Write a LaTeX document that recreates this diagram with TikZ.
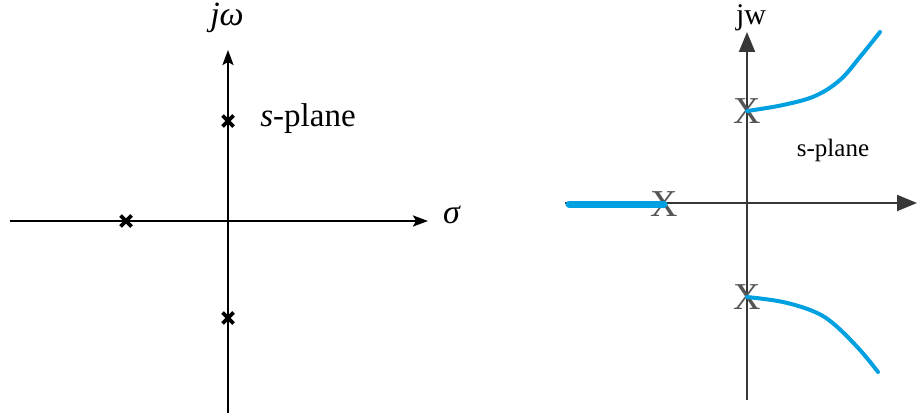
\documentclass[tikz,border=0pt]{standalone}
\usepackage{fontspec}
\setmainfont{Liberation Serif}
\usetikzlibrary{arrows.meta}
\definecolor{locus}{RGB}{0,160,225}
\definecolor{axgray}{RGB}{55,55,55}
\definecolor{xgray}{RGB}{85,85,85}
\begin{document}
\begin{tikzpicture}[x=1pt,y=-1pt,
  leftaxis/.style={line width=2.4pt,-{Stealth[length=15pt,width=11pt,inset=3pt]}},
  rightaxis/.style={line width=2pt,draw=axgray,-{Triangle[length=20pt,width=16pt]}},
  pole/.style={inner sep=0pt,minimum size=14pt},
  polecross/.style={line width=3.6pt},
  rpole/.style={inner sep=0pt,text=xgray,font=\fontsize{38}{38}\selectfont},
  locusline/.style={draw=locus,line width=4pt,line cap=round,line join=round}]
\useasboundingbox (0,0) rectangle (917,417);
% left diagram
\coordinate (lyb) at (228,413);
\coordinate (lyt) at (228,50);
\coordinate (lxl) at (10,221);
\coordinate (lxr) at (428,221);
\draw[leftaxis] (lyb) -- (lyt);
\draw[leftaxis] (lxl) -- (lxr);
\node (jw) at (227,18) {\fontsize{34}{34}\selectfont\textit{jω}};
\node (sigma) at (452,215) {\fontsize{34}{34}\selectfont\textit{σ}};
\node (lsplane) at (308,119) {\fontsize{33}{33}\selectfont\textit{s}-plane};
\node[pole] (p1) at (228,121) {};
\node[pole] (p2) at (126,221) {};
\node[pole] (p3) at (228,318) {};
\foreach \p in {p1,p2,p3}{
  \draw[polecross] ([shift={(-5.5,-5.5)}]\p.center) -- ([shift={(5.5,5.5)}]\p.center);
  \draw[polecross] ([shift={(-5.5,5.5)}]\p.center) -- ([shift={(5.5,-5.5)}]\p.center);
}
% right diagram
\coordinate (ryb) at (747,400);
\coordinate (ryt) at (747,32);
\coordinate (rxl) at (565,203);
\coordinate (rxr) at (917,203);
\draw[rightaxis] (ryb) -- (ryt);
\draw[rightaxis] (rxl) -- (rxr);
\node (jw2) at (751,18) {\fontsize{30}{30}\selectfont jw};
\node (rsplane) at (833,150) {\fontsize{25}{25}\selectfont s-plane};
\node[rpole] (q1) at (747,111) {X};
\node[rpole] (q2) at (664,204) {X};
\node[rpole] (q3) at (747,297) {X};
\draw[locusline,line width=7pt] (569,204) -- (q2.center);
\draw[locusline] plot[smooth,tension=0.6] coordinates {(q1.center) (783,105) (815,96) (840,80) (860,57) (880,32)};
\draw[locusline] plot[smooth,tension=0.6] coordinates {(q3.center) (783,302) (815,312) (835,325) (860,350) (878,372)};
\end{tikzpicture}
\end{document}
